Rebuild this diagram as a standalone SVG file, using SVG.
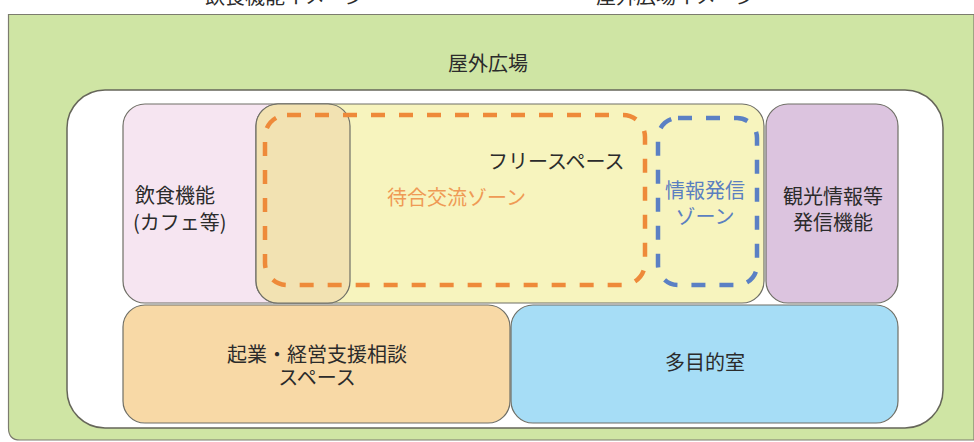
<svg xmlns="http://www.w3.org/2000/svg" width="974" height="442" viewBox="0 0 974 442">
<style>
text{font-family:"Noto Sans CJK JP","Noto Sans",sans-serif;font-size:20px;fill:#2b2b2b}
.box{stroke:#6f6f66;stroke-width:1.2}
.c{text-anchor:middle}
.dash{fill:none;stroke-width:4.5;stroke-dasharray:14 14}
</style>
<g id="captions">
<text x="205" y="4">飲食機能イメージ</text>
<text x="596" y="4">屋外広場イメージ</text>
</g>
<g id="plaza">
<path d="M8.5 14.5 H974 V440 H20 Q8.5 440 8.5 428 Z" fill="#cfe5a4" stroke="#7c7c6e" stroke-width="1.2"/>
<text class="c" x="488" y="71">屋外広場</text>
</g>
<g id="building">
<rect x="67" y="90" width="876" height="338" rx="38" fill="#ffffff" stroke="#66665a" stroke-width="1.5"/>
</g>
<g id="cafe">
<rect class="box" x="123" y="104" width="227" height="199" rx="22" fill="#f6e5f1"/>
<text x="135" y="203">飲食機能</text>
<text x="133" y="230">(カフェ等)</text>
</g>
<g id="free-space">
<rect class="box" x="256" y="104" width="508" height="199" rx="22" fill="#f7f4be"/>
<rect class="box" x="256" y="104" width="94" height="199" rx="22" fill="#f2e2b2"/>
<text x="488" y="169">フリースペース</text>
</g>
<g id="waiting-zone">
<rect class="dash" x="265" y="115" width="380" height="170" rx="22" stroke="#ee8a3a"/>
<text x="387" y="205" style="fill:#ef9a55">待合交流ゾーン</text>
</g>
<g id="info-zone">
<rect class="dash" x="658" y="118" width="99" height="167" rx="20" stroke="#5b80c4"/>
<text class="c" x="705" y="198" style="fill:#5b7fc0">情報発信</text>
<text class="c" x="705" y="224" style="fill:#5b7fc0">ゾーン</text>
</g>
<g id="tourist-info">
<rect class="box" x="766" y="104" width="132" height="199" rx="22" fill="#dcc4df"/>
<text class="c" x="833" y="204">観光情報等</text>
<text class="c" x="833" y="230">発信機能</text>
</g>
<g id="business-support">
<rect class="box" x="123" y="305" width="387" height="118" rx="22" fill="#f8d9a6"/>
<text class="c" x="317" y="362">起業・経営支援相談</text>
<text class="c" x="317" y="385">スペース</text>
</g>
<g id="multipurpose">
<rect class="box" x="511" y="305" width="387" height="118" rx="22" fill="#a6ddf6"/>
<text class="c" x="705" y="370">多目的室</text>
</g>
<g id="connectors"/>
</svg>
